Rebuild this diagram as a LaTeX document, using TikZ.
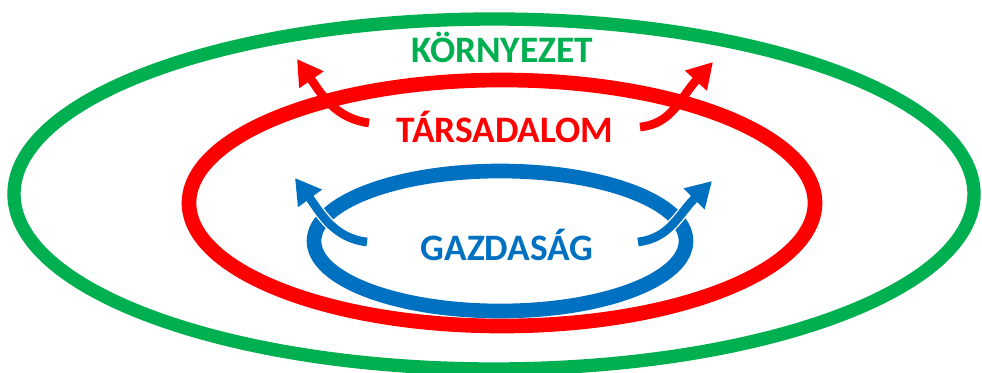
\documentclass[tikz,border=0pt]{standalone}
\usepackage{fontspec}
\setmainfont{Carlito}
\usetikzlibrary{arrows.meta,shapes.geometric}
\definecolor{envgreen}{HTML}{00B050}
\definecolor{socred}{HTML}{FF0000}
\definecolor{ecoblue}{HTML}{0070C0}
\tikzset{
  lbl/.style={font=\fontsize{28}{30}\selectfont\bfseries, inner sep=0pt},
  curl/.style={line width=6.5pt, -{Triangle[length=19pt, width=21pt]}},
  curlgap/.style={line width=8.5pt, white, shorten >=16pt},
}
\begin{document}
\begin{tikzpicture}[x=0.75pt, y=-0.75pt]
\useasboundingbox (0,0) rectangle (982,372);
\draw[envgreen, line width=10pt] (494,194) ellipse [x radius=480, y radius=175];
\draw[socred, line width=11pt] (502,203) ellipse [x radius=313, y radius=123];
\draw[ecoblue, line width=11pt] (500,241) ellipse [x radius=186, y radius=70];
\node[lbl, envgreen] (tenv) at (502,47) {KÖRNYEZET};
\node[lbl, socred] (tsoc) at (505,127) {TÁRSADALOM};
\node[lbl, ecoblue] (teco) at (507,245) {GAZDASÁG};
\coordinate (r1s) at (369,123); \coordinate (r1e) at (297,59);
\coordinate (r2s) at (640,127); \coordinate (r2e) at (713,62);
\coordinate (b1s) at (367,242); \coordinate (b1e) at (295,178);
\coordinate (b2s) at (638,242); \coordinate (b2e) at (712,181);
\draw[curlgap] (b1s) .. controls (333,238) and (320,212) .. (b1e);
\draw[curlgap] (b2s) .. controls (670,238) and (678,215) .. (b2e);
\draw[curl, socred] (r1s) .. controls (335,118) and (322,95) .. (r1e);
\draw[curl, socred] (r2s) .. controls (672,124) and (680,98) .. (r2e);
\draw[curl, ecoblue] (b1s) .. controls (333,238) and (320,212) .. (b1e);
\draw[curl, ecoblue] (b2s) .. controls (670,238) and (678,215) .. (b2e);
\end{tikzpicture}
\end{document}
